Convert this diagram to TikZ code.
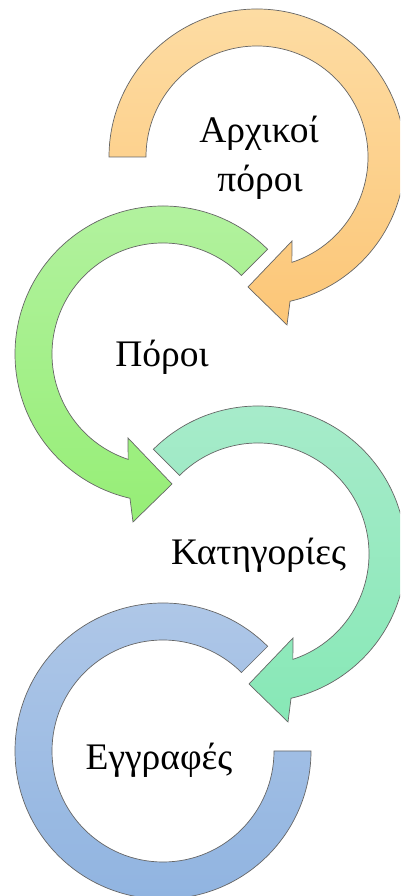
\documentclass[tikz,border=0pt]{standalone}
\usepackage{fontspec}
\setmainfont{Liberation Serif}
\definecolor{orgT}{HTML}{FDDCA3}
\definecolor{orgB}{HTML}{FCC677}
\definecolor{grnT}{HTML}{B3F2A0}
\definecolor{grnB}{HTML}{96EE76}
\definecolor{tealT}{HTML}{A8EBCB}
\definecolor{tealB}{HTML}{87E8B6}
\definecolor{bluT}{HTML}{B0C8E8}
\definecolor{bluB}{HTML}{8FB3E0}
\begin{document}
\begin{tikzpicture}[x=1pt,y=1pt,
  band/.style={draw=black!60, line width=0.7pt},
  lbl/.style={font=\fontsize{37.5}{44}\selectfont, anchor=base, inner sep=0pt}]
\useasboundingbox (0,0) rectangle (400,896);
\clip (0,0) rectangle (400,896);
% orange
\begin{scope}[shift={(257,739)}, xscale=-1]
\shade[band, top color=orgT, bottom color=orgB] (0:148) arc[start angle=0,end angle=257.1,radius=148] -- (-30,-168) -- (9,-130) -- (-35,-84) -- (251.7:111) arc[start angle=251.7,end angle=0,radius=111] -- cycle;
\end{scope}
% green
\begin{scope}[shift={(163,542)}]
\shade[band, top color=grnT, bottom color=grnB] (45:148) arc[start angle=45,end angle=257.1,radius=148] -- (-30,-168) -- (9,-130) -- (-35,-84) -- (251.7:111) arc[start angle=251.7,end angle=45,radius=111] -- cycle;
\end{scope}
% teal
\begin{scope}[shift={(258,342)}, xscale=-1]
\shade[band, top color=tealT, bottom color=tealB] (45:148) arc[start angle=45,end angle=257.1,radius=148] -- (-30,-168) -- (9,-130) -- (-35,-84) -- (251.7:111) arc[start angle=251.7,end angle=45,radius=111] -- cycle;
\end{scope}
% blue
\begin{scope}[shift={(163,145)}]
\shade[band, top color=bluT, bottom color=bluB] (45:148) arc[start angle=45,end angle=360,radius=148] -- (0:111) arc[start angle=360,end angle=45,radius=111] -- cycle;
\end{scope}
\node[lbl] (t1a) at (259,753) {Αρχικοί};
\node[lbl] (t1b) at (260,704) {πόροι};
\node[lbl] (t2) at (162,529) {Πόροι};
\node[lbl] (t3) at (258.5,331) {Κατηγορίες};
\node[lbl] (t4) at (159,126) {Εγγραφές};
\end{tikzpicture}
\end{document}
